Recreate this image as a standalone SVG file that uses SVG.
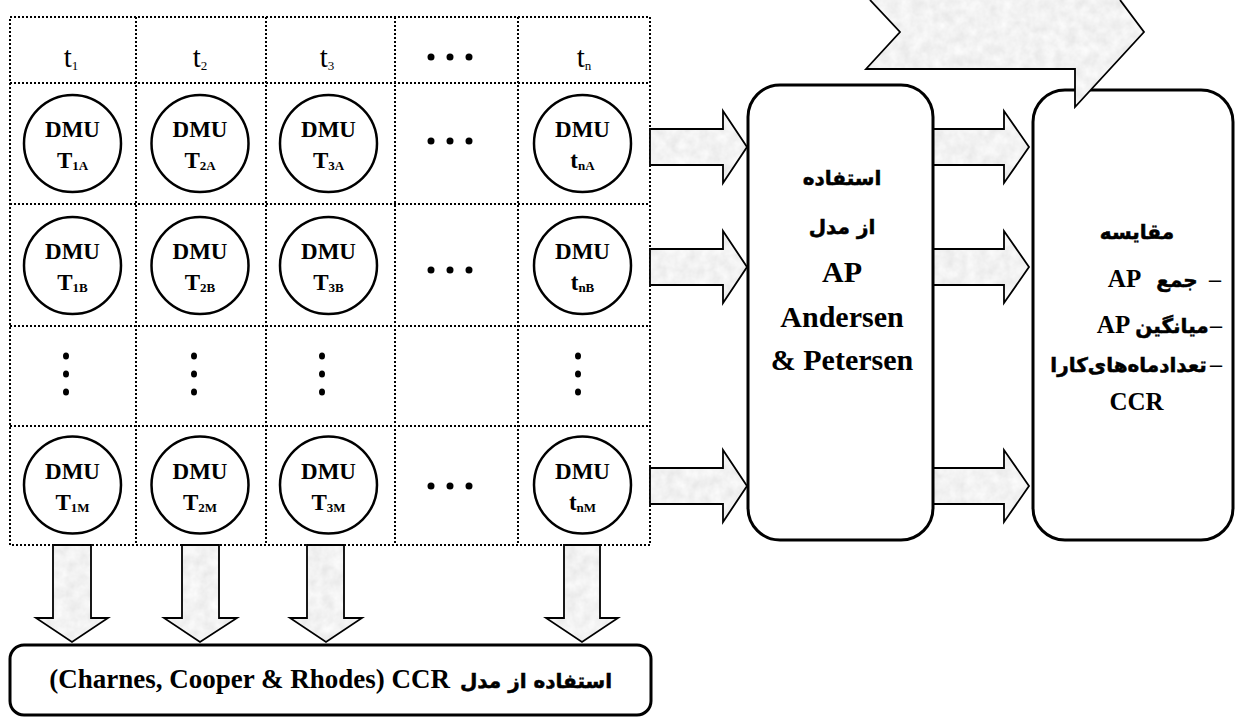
<svg xmlns="http://www.w3.org/2000/svg" width="1236" height="718" viewBox="0 0 1236 718">
<style>
.grid{stroke:#000;stroke-width:2;stroke-dasharray:2 2;fill:none}
.c{fill:#fff;stroke:#000;stroke-width:2.5}
.box{fill:#fff;stroke:#000;stroke-width:3}
.arr{fill:url(#tex);stroke:#000;stroke-width:1.8;stroke-linejoin:miter}
.lat{font-family:"Liberation Serif","Times New Roman",serif;font-weight:bold;fill:#000}
.hd{font-family:"Liberation Serif","Times New Roman",serif;font-size:29px;fill:#000}
.fa{font-family:"DejaVu Sans",sans-serif;font-weight:bold;fill:#000;stroke:#000;stroke-width:0.5}
.dm{font-size:23px}
.sub{font-size:13px}
.dot{fill:#000}
</style>
<defs>
<filter id="noise" x="0" y="0" width="100%" height="100%" filterUnits="userSpaceOnUse">
<feTurbulence type="fractalNoise" baseFrequency="0.09" numOctaves="3" seed="4"/>
<feColorMatrix type="matrix" values="0.22 0 0 0 0.78  0.22 0 0 0 0.78  0.22 0 0 0 0.78  0 0 0 0 1"/>
</filter>
<pattern id="tex" patternUnits="userSpaceOnUse" width="400" height="400">
<rect width="400" height="400" fill="#e4e4e4" filter="url(#noise)"/>
</pattern>
</defs>

<g id="grid">
<rect class="grid" x="10" y="17" width="640" height="528"/>
<line class="grid" x1="136" y1="17" x2="136" y2="545"/>
<line class="grid" x1="266" y1="17" x2="266" y2="545"/>
<line class="grid" x1="395" y1="17" x2="395" y2="545"/>
<line class="grid" x1="518" y1="17" x2="518" y2="545"/>
<line class="grid" x1="10" y1="83" x2="650" y2="83"/>
<line class="grid" x1="10" y1="204" x2="650" y2="204"/>
<line class="grid" x1="10" y1="326" x2="650" y2="326"/>
<line class="grid" x1="10" y1="426" x2="650" y2="426"/>
</g>

<g id="headers">
<text class="hd" x="71" y="67" text-anchor="middle">t<tspan class="sub" font-size="14" dy="3">1</tspan></text>
<text class="hd" x="200" y="67" text-anchor="middle">t<tspan class="sub" font-size="14" dy="3">2</tspan></text>
<text class="hd" x="327" y="67" text-anchor="middle">t<tspan class="sub" font-size="14" dy="3">3</tspan></text>
<text class="hd" x="584" y="67" text-anchor="middle">t<tspan class="sub" font-size="14" dy="3">n</tspan></text>
<circle class="dot" cx="431" cy="57" r="3.5"/><circle class="dot" cx="450" cy="57" r="3.5"/><circle class="dot" cx="469" cy="57" r="3.5"/>
</g>

<g id="ellipses">
<circle class="dot" cx="431" cy="141" r="3.5"/><circle class="dot" cx="450" cy="141" r="3.5"/><circle class="dot" cx="469" cy="141" r="3.5"/>
<circle class="dot" cx="431" cy="270" r="3.5"/><circle class="dot" cx="450" cy="270" r="3.5"/><circle class="dot" cx="469" cy="270" r="3.5"/>
<circle class="dot" cx="431" cy="486" r="3.5"/><circle class="dot" cx="450" cy="486" r="3.5"/><circle class="dot" cx="469" cy="486" r="3.5"/>
<ellipse class="dot" cx="66" cy="356" rx="3" ry="3.5"/><ellipse class="dot" cx="66" cy="374" rx="3" ry="3.5"/><ellipse class="dot" cx="66" cy="392" rx="3" ry="3.5"/>
<ellipse class="dot" cx="194" cy="356" rx="3" ry="3.5"/><ellipse class="dot" cx="194" cy="374" rx="3" ry="3.5"/><ellipse class="dot" cx="194" cy="392" rx="3" ry="3.5"/>
<ellipse class="dot" cx="322" cy="356" rx="3" ry="3.5"/><ellipse class="dot" cx="322" cy="374" rx="3" ry="3.5"/><ellipse class="dot" cx="322" cy="392" rx="3" ry="3.5"/>
<ellipse class="dot" cx="578" cy="356" rx="3" ry="3.5"/><ellipse class="dot" cx="578" cy="374" rx="3" ry="3.5"/><ellipse class="dot" cx="578" cy="392" rx="3" ry="3.5"/>
</g>

<g id="dmu-1A"><circle class="c" cx="72.5" cy="143.5" r="48.5"/><text class="lat dm" x="72.5" y="137" text-anchor="middle">DMU</text><text class="lat dm" x="72.5" y="168" text-anchor="middle">T<tspan class="sub" dy="2">1A</tspan></text></g>
<g id="dmu-2A"><circle class="c" cx="200" cy="143.5" r="48.5"/><text class="lat dm" x="200" y="137" text-anchor="middle">DMU</text><text class="lat dm" x="200" y="168" text-anchor="middle">T<tspan class="sub" dy="2">2A</tspan></text></g>
<g id="dmu-3A"><circle class="c" cx="328.5" cy="143.5" r="48.5"/><text class="lat dm" x="328.5" y="137" text-anchor="middle">DMU</text><text class="lat dm" x="328.5" y="168" text-anchor="middle">T<tspan class="sub" dy="2">3A</tspan></text></g>
<g id="dmu-nA"><circle class="c" cx="582.5" cy="143.5" r="48.5"/><text class="lat dm" x="582.5" y="137" text-anchor="middle">DMU</text><text class="lat dm" x="582.5" y="168" text-anchor="middle">t<tspan class="sub" dy="2">nA</tspan></text></g>

<g id="dmu-1B"><circle class="c" cx="72.5" cy="265.5" r="48.5"/><text class="lat dm" x="72.5" y="259" text-anchor="middle">DMU</text><text class="lat dm" x="72.5" y="290" text-anchor="middle">T<tspan class="sub" dy="2">1B</tspan></text></g>
<g id="dmu-2B"><circle class="c" cx="200" cy="265.5" r="48.5"/><text class="lat dm" x="200" y="259" text-anchor="middle">DMU</text><text class="lat dm" x="200" y="290" text-anchor="middle">T<tspan class="sub" dy="2">2B</tspan></text></g>
<g id="dmu-3B"><circle class="c" cx="328.5" cy="265.5" r="48.5"/><text class="lat dm" x="328.5" y="259" text-anchor="middle">DMU</text><text class="lat dm" x="328.5" y="290" text-anchor="middle">T<tspan class="sub" dy="2">3B</tspan></text></g>
<g id="dmu-nB"><circle class="c" cx="582.5" cy="265.5" r="48.5"/><text class="lat dm" x="582.5" y="259" text-anchor="middle">DMU</text><text class="lat dm" x="582.5" y="290" text-anchor="middle">t<tspan class="sub" dy="2">nB</tspan></text></g>

<g id="dmu-1M"><circle class="c" cx="72.5" cy="485" r="48.5"/><text class="lat dm" x="72.5" y="478.5" text-anchor="middle">DMU</text><text class="lat dm" x="72.5" y="509.5" text-anchor="middle">T<tspan class="sub" dy="2">1M</tspan></text></g>
<g id="dmu-2M"><circle class="c" cx="200" cy="485" r="48.5"/><text class="lat dm" x="200" y="478.5" text-anchor="middle">DMU</text><text class="lat dm" x="200" y="509.5" text-anchor="middle">T<tspan class="sub" dy="2">2M</tspan></text></g>
<g id="dmu-3M"><circle class="c" cx="328.5" cy="485" r="48.5"/><text class="lat dm" x="328.5" y="478.5" text-anchor="middle">DMU</text><text class="lat dm" x="328.5" y="509.5" text-anchor="middle">T<tspan class="sub" dy="2">3M</tspan></text></g>
<g id="dmu-nM"><circle class="c" cx="582.5" cy="485" r="48.5"/><text class="lat dm" x="582.5" y="478.5" text-anchor="middle">DMU</text><text class="lat dm" x="582.5" y="509.5" text-anchor="middle">t<tspan class="sub" dy="2">nM</tspan></text></g>

<g id="connectors">
<polygon class="arr" points="650,129 723,129 723,111 747,147 723,183 723,165 650,165"/>
<polygon class="arr" points="650,249 723,249 723,231 747,267 723,303 723,285 650,285"/>
<polygon class="arr" points="650,468 723,468 723,450 747,486 723,522 723,504 650,504"/>
<polygon class="arr" points="933,129 1004,129 1004,111 1029,147 1004,183 1004,165 933,165"/>
<polygon class="arr" points="933,249 1004,249 1004,231 1029,267 1004,303 1004,285 933,285"/>
<polygon class="arr" points="933,468 1004,468 1004,450 1029,486 1004,522 1004,504 933,504"/>
<polygon class="arr" points="53,545 91,545 91,618 108,618 72,642 36,618 53,618"/>
<polygon class="arr" points="182,545 219,545 219,618 237,618 200,642 164,618 182,618"/>
<polygon class="arr" points="307,545 344,545 344,618 362,618 326,642 290,618 307,618"/>
<polygon class="arr" points="564,545 600,545 600,618 618,618 582,642 546,618 564,618"/>
</g>

<g id="box-ap">
<rect class="box" x="748" y="85" width="185" height="455" rx="32" ry="32"/>
<text class="fa" x="842" y="185" font-size="20" text-anchor="middle">استفاده</text>
<text class="fa" x="842" y="234" font-size="20" text-anchor="middle">از مدل</text>
<text class="lat" x="842" y="282" font-size="30" text-anchor="middle">AP</text>
<text class="lat" x="842" y="327" font-size="30" text-anchor="middle">Andersen</text>
<text class="lat" x="842" y="370" font-size="30" text-anchor="middle">&amp; Petersen</text>
</g>

<g id="box-compare">
<rect class="box" x="1033" y="90" width="200" height="450" rx="32" ry="32"/>
<text class="fa" x="1137" y="239" font-size="20" text-anchor="middle">مقایسه</text>
<text class="lat" x="1215" y="287" font-size="24" text-anchor="middle">–</text>
<text class="fa" x="1177" y="287" font-size="20" text-anchor="middle">جمع</text>
<text class="lat" x="1124.5" y="287" font-size="25" text-anchor="middle">AP</text>
<text class="lat" x="1216" y="333" font-size="24" text-anchor="middle">–</text>
<text class="fa" x="1172" y="333" font-size="20" text-anchor="middle">میانگین</text>
<text class="lat" x="1113.5" y="333" font-size="25" text-anchor="middle">AP</text>
<text class="lat" x="1216" y="372" font-size="24" text-anchor="middle">–</text>
<text class="fa" x="1128.5" y="372" font-size="20" text-anchor="middle">تعدادماه‌های‌کارا</text>
<text class="lat" x="1136.5" y="410" font-size="25" text-anchor="middle">CCR</text>
</g>

<g id="big-arrow">
<path d="M866,-2 L1121,-2 L1144,32 L1075,107 L1075,69 L866,69 L900,32 Z" fill="url(#tex)" stroke="none"/>
<path d="M870,0 L900,32 L866,69 L1075,69 L1075,107 L1144,32 L1120,0" fill="none" stroke="#000" stroke-width="1.8"/>
</g>

<g id="box-ccr">
<rect class="box" x="10" y="645" width="641" height="70" rx="14" ry="14"/>
<text class="lat" x="450" y="688" font-size="27" text-anchor="end">(Charnes, Cooper &amp; Rhodes) CCR</text>
<text class="fa" x="536" y="688" font-size="20" text-anchor="middle">استفاده از مدل</text>
</g>
</svg>
